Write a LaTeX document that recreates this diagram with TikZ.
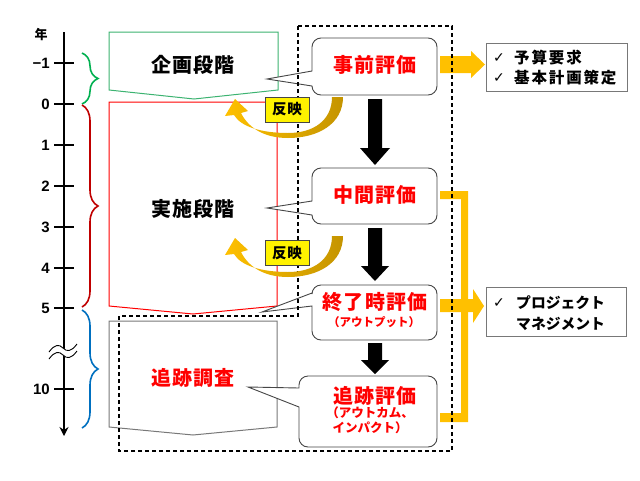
\documentclass[tikz,border=0pt]{standalone}
\usepackage{fontspec}
\usetikzlibrary{arrows.meta,decorations.pathreplacing}
\newfontfamily\jp{Noto Sans CJK JP}
\newfontfamily\jpls{Noto Sans CJK JP}[LetterSpace=12]
\newfontfamily\jpsl{Noto Sans CJK JP}[LetterSpace=6]
\newfontfamily\numf{Liberation Sans}
\newfontfamily\symf{DejaVu Sans}
\definecolor{evred}{RGB}{255,0,0}
\definecolor{pgreen}{RGB}{60,179,113}
\definecolor{bgreen}{RGB}{0,176,80}
\definecolor{bred}{RGB}{192,0,0}
\definecolor{bblue}{RGB}{0,112,192}
\definecolor{orng}{RGB}{255,192,0}
\definecolor{goldd}{RGB}{196,148,0}
\definecolor{cgray}{RGB}{70,70,70}
\definecolor{pgray}{RGB}{120,120,120}
\newcommand\mycallout[8]{%
  \draw[calloutline] ({(#1+#3)/2},#2) [rounded corners=9] -- (#3,#2) -- (#3,#4) -- (#1,#4)
    [sharp corners] -- (#1,#8) -- (#5,#6) -- (#1,#7) [rounded corners=9] -- (#1,#2) -- cycle;}
\begin{document}
\begin{tikzpicture}[x=1pt,y=-1pt,
  lbl/.style={inner sep=0, font=\jpsl\bfseries\fontsize{20}{24}\selectfont},
  evtxt/.style={inner sep=0, text=evred, font=\jpsl\bfseries\fontsize{20}{24}\selectfont},
  subtxt/.style={inner sep=0, text=evred, align=center, font=\jp\bfseries\fontsize{12.5}{14.5}\selectfont},
  numlbl/.style={inner sep=0, anchor=east, font=\numf\bfseries\fontsize{15}{18}\selectfont},
  calloutline/.style={draw=cgray, fill=white, line width=0.9pt},
  dashedframe/.style={draw=black, line width=1.2pt, dash pattern=on 4pt off 3pt},
  blkarrow/.style={fill=black},
  orangefill/.style={fill=orng},
  hanei/.style={draw=cgray, fill=yellow, line width=0.8pt, minimum width=44, minimum height=25, inner sep=0, font=\jpsl\bfseries\fontsize{14.5}{16}\selectfont},
  infobox/.style={draw=pgray, line width=1pt, fill=white, inner sep=0},
  boxtxt/.style={inner sep=0, anchor=west, font=\jpls\bfseries\fontsize{15.5}{17}\selectfont},
  boxtxtk/.style={inner sep=0, anchor=west, font=\jp\bfseries\fontsize{14.8}{17}\selectfont},
  chk/.style={inner sep=0, anchor=west, font=\symf\fontsize{14}{16}\selectfont},
  bracestyle/.style={line width=1.6pt, decorate, decoration={brace, amplitude=16pt}}
]
\useasboundingbox[fill=white] (0,0) rectangle (640,480);

% ---- phase pentagons ----
\draw[pgreen, line width=1pt, fill=white] (109,32) -- (278,32) -- (278,90) -- (194,99) -- (109,90) -- cycle;
\draw[red, line width=1pt, fill=white] (109,102) -- (277,102) -- (277,306) -- (193,314) -- (109,306) -- cycle;
\draw[pgray, line width=1pt, fill=white] (109,321) -- (277,321) -- (277,427) -- (193,435) -- (109,427) -- cycle;
\node[lbl] (kikaku) at (193,65) {企画段階};
\node[lbl] (jisshi) at (193,209) {実施段階};
\node[lbl, text=evred] (tsuiseki) at (193,378) {追跡調査};

% ---- time axis ----
\draw[line width=1.8pt, -{Stealth[length=9pt,width=9pt,inset=3pt]}] (64,32) -- (64,436);
\foreach \yy in {63,104,145,186,227,268,308,389}
  \draw[line width=1.8pt] (54,\yy) -- (74,\yy);
\fill[white] (49,352) .. controls (55,344) and (59,344) .. (63,348) .. controls (67,352) and (71,352) .. (77,344)
  -- (77,351) .. controls (71,359) and (67,359) .. (63,355) .. controls (59,351) and (55,351) .. (49,359) -- cycle;
\draw[line width=0.9pt] (49,352) .. controls (55,344) and (59,344) .. (63,348) .. controls (67,352) and (71,352) .. (77,344);
\draw[line width=0.9pt] (49,359) .. controls (55,351) and (59,351) .. (63,355) .. controls (67,359) and (71,359) .. (77,351);
\node[inner sep=0, font=\jp\bfseries\fontsize{13}{15}\selectfont] (nen) at (41,35) {年};
\node[numlbl] (lm1) at (50,63) {−1};
\node[numlbl] (l0) at (50,104) {0};
\node[numlbl] (l1) at (50,145) {1};
\node[numlbl] (l2) at (50,186) {2};
\node[numlbl] (l3) at (50,227) {3};
\node[numlbl] (l4) at (50,268) {4};
\node[numlbl] (l5) at (50,308) {5};
\node[numlbl] (l10) at (50,389) {10};

% ---- braces ----
\draw[bracestyle, bgreen] (82,53) -- (82,104);
\draw[bracestyle, bred] (82,105) -- (82,307);
\draw[bracestyle, bblue] (82,310) -- (82,428);

% ---- orange arrows and result boxes ----
\fill[orangefill] (440,56) -- (471,56) -- (471,51) -- (485,64.5) -- (471,78) -- (471,73) -- (440,73) -- cycle;
\fill[orangefill] (440,191) -- (468,191) -- (468,422) -- (440,422) -- (440,413) -- (461,413) -- (461,199) -- (440,199) -- cycle;
\fill[orangefill] (440,299) -- (473,299) -- (473,289) -- (484,306) -- (473,323) -- (473,312) -- (440,312) -- cycle;
\node[infobox, minimum width=141, minimum height=48] (box1) at (556.5,67) {};
\node[chk] (c1a) at (493,58) {✓};
\node[boxtxt] (t1a) at (514,58) {予算要求};
\node[chk] (c1b) at (493,78) {✓};
\node[boxtxt] (t1b) at (514,78) {基本計画策定};
\node[infobox, minimum width=140, minimum height=49] (box2) at (556,311.5) {};
\node[chk] (c2a) at (493,303) {✓};
\node[boxtxtk] (t2a) at (516,303) {プロジェクト};
\node[boxtxtk] (t2b) at (516,324) {マネジメント};

% ---- callouts ----
\mycallout{312}{38}{437}{95}{267}{79}{71}{86}
\mycallout{312}{168}{437}{224}{267}{208}{201}{215}
\mycallout{312}{285}{437}{340}{262}{312}{293}{306}
\mycallout{299}{376}{437}{447}{248}{387}{388}{407}

% ---- dashed evaluation frame ----
\draw[dashedframe] (298,26) -- (452,26) -- (452,451) -- (119,451) -- (119,316) -- (298,316) -- cycle;

% ---- black flow arrows ----
\fill[blkarrow] (368,99) -- (382,99) -- (382,148) -- (390,148) -- (375,165) -- (360,148) -- (368,148) -- cycle;
\fill[blkarrow] (368,228) -- (382,228) -- (382,266) -- (389,266) -- (375,281) -- (361,266) -- (368,266) -- cycle;
\fill[blkarrow] (368,343) -- (382,343) -- (382,360) -- (389,360) -- (375,374) -- (361,360) -- (368,360) -- cycle;

% ---- callout texts ----
\node[evtxt] (jizen) at (375,65) {事前評価};
\node[evtxt] (chukan) at (375,195) {中間評価};
\node[evtxt] (shuryo) at (375,302) {終了時評価};
\node[subtxt, font=\jp\bfseries\fontsize{11.5}{13}\selectfont] (shuryosub) at (374,322) {（アウトプット）};
\node[evtxt] (tsuihyo) at (375,396) {追跡評価};
\node[subtxt] (tsuihyosub) at (370,420) {（アウトカム、\\インパクト）};

% ---- feedback arrows ----
\foreach \dy in {0,139} {
  \shade[left color=orng, right color=goldd, shift={(0,\dy)}]
    (343,97) .. controls (343,124) and (318,138) .. (288,138)
    .. controls (263,138) and (248,127) .. (241,113)
    -- (248,111) -- (235,99) -- (225,116) -- (234,115)
    .. controls (241,127) and (262,133) .. (288,133)
    .. controls (314,133) and (332,120) .. (332,97) -- cycle;
}
\node[hanei] (hanei1) at (287,109.5) {反映};
\node[hanei] (hanei2) at (287,253) {反映};
\end{tikzpicture}
\end{document}
